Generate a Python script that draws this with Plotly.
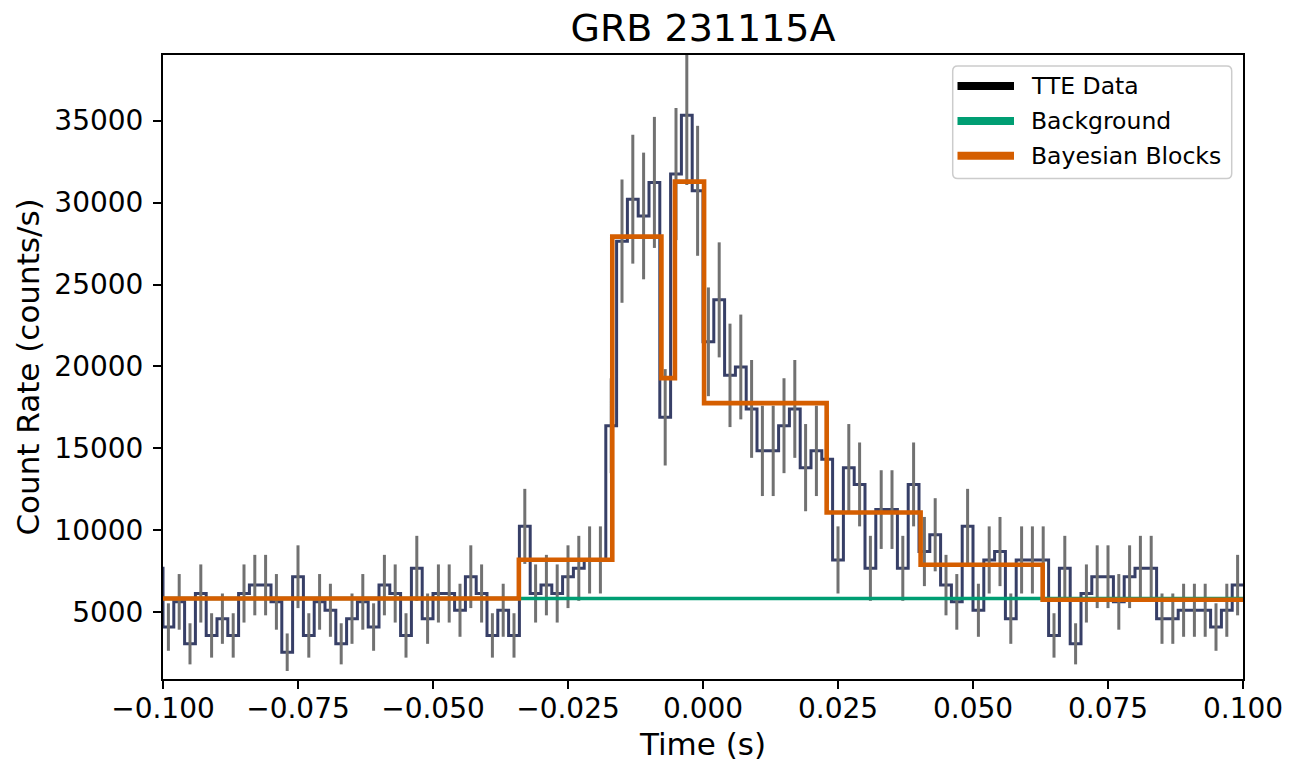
import numpy as np
import plotly.graph_objects as go

# ---- TTE light curve: counts in 2 ms bins, first bin starts at -0.102 s ----
t_first = -0.102
bin_width = 0.002
live_time = 1 / 512  # live time per bin (s)

counts = [
    15,
    8, 11, 6, 12, 7, 9, 7, 12, 13, 13,
    11, 5, 14, 7, 11, 10, 6, 9, 11, 8,
    13, 12, 7, 15, 9, 12, 12, 10, 14, 12,
    7, 10, 7, 20, 12, 13, 12, 14, 15, 16,
    16, 32, 54, 59, 57, 61, 33, 62, 69, 60,
    42, 47, 38, 39, 34, 29, 29, 32, 34, 27,
    29, 28, 16, 27, 25, 15, 22, 22, 15, 25,
    17, 19, 13, 11, 20, 10, 16, 17, 9, 16,
    16, 16, 7, 15, 6, 12, 14, 14, 11, 14,
    15, 15, 9, 9, 10, 10, 10, 8, 10, 13,
]

# ---- Bayesian blocks (edges in s, rates in counts/s) ----
bb_edges = [-0.102, -0.0341, -0.0168, -0.0077, -0.0052, 0.0002, 0.0229, 0.0403, 0.0629, 0.102]
bb_rates = [5842, 8203, 27924, 19286, 31279, 17761, 11088, 7898, 5763]

# ---- Background level (counts/s) ----
bkg_rate = 5840
bkg_span = [-0.102, 0.102]

# ---- Axis ticks ----
x_ticks = [-0.1, -0.075, -0.05, -0.025, 0.0, 0.025, 0.05, 0.075, 0.1]
x_tick_text = ["\u22120.100", "\u22120.075", "\u22120.050", "\u22120.025", "0.000",
               "0.025", "0.050", "0.075", "0.100"]
y_ticks = [5000, 10000, 15000, 20000, 25000, 30000, 35000]

legend_items = [("TTE Data", "#000000"), ("Background", "#009e73"), ("Bayesian Blocks", "#d55e00")]

# ---- Derived quantities ----
counts_arr = np.array(counts, dtype=float)
rate = counts_arr / live_time
rate_err = np.sqrt(counts_arr) / live_time
edges = t_first + bin_width * np.arange(len(counts) + 1)
centers = 0.5 * (edges[:-1] + edges[1:])

FONT = "DejaVu Sans"
fig = go.Figure()

# binned light curve as a histogram-style step line
fig.add_trace(go.Scatter(
    x=edges, y=np.append(rate, rate[-1]),
    mode="lines", line=dict(shape="hv", color="#373f67", width=3),
    name="TTE Data", showlegend=False, hoverinfo="skip",
))

# Poisson error bars at bin centres
fig.add_trace(go.Scatter(
    x=centers, y=rate, mode="markers",
    marker=dict(size=0.1, color="rgba(0,0,0,0)"),
    error_y=dict(type="data", array=rate_err, visible=True,
                 color="#717171", thickness=3, width=0),
    showlegend=False, hoverinfo="skip",
))

# background model
fig.add_trace(go.Scatter(
    x=bkg_span, y=[bkg_rate, bkg_rate], mode="lines",
    line=dict(color="#009e73", width=3.5),
    name="Background", showlegend=False, hoverinfo="skip",
))

# Bayesian block representation
fig.add_trace(go.Scatter(
    x=bb_edges, y=bb_rates + [bb_rates[-1]], mode="lines",
    line=dict(shape="hv", color="#d55e00", width=4.6),
    name="Bayesian Blocks", showlegend=False, hoverinfo="skip",
))

# ---- legend drawn in paper coordinates ----
PL, PR, PT, PB = 163, 1243, 55, 679
def px(xp):
    return (xp - PL) / (PR - PL)
def py(yp):
    return (PB - yp) / (PB - PT)

bx0, bx1, by0, by1, r = 952.7, 1231.7, 66.0, 178.5, 5.0
path = (
    f"M {px(bx0 + r)},{py(by0)} L {px(bx1 - r)},{py(by0)} "
    f"Q {px(bx1)},{py(by0)} {px(bx1)},{py(by0 + r)} "
    f"L {px(bx1)},{py(by1 - r)} Q {px(bx1)},{py(by1)} {px(bx1 - r)},{py(by1)} "
    f"L {px(bx0 + r)},{py(by1)} Q {px(bx0)},{py(by1)} {px(bx0)},{py(by1 - r)} "
    f"L {px(bx0)},{py(by0 + r)} Q {px(bx0)},{py(by0)} {px(bx0 + r)},{py(by0)} Z"
)
shapes = [dict(type="path", xref="paper", yref="paper", path=path,
               fillcolor="rgba(255,255,255,0.8)", line=dict(color="#cccccc", width=1.5))]
annotations = []
row_y = [86.0, 121.0, 155.7]
for (label, col), yy in zip(legend_items, row_y):
    shapes.append(dict(type="line", xref="paper", yref="paper",
                       x0=px(957.5), x1=px(1014), y0=py(yy), y1=py(yy),
                       line=dict(color=col, width=8)))
    annotations.append(dict(xref="paper", yref="paper", x=px(1029), y=py(yy),
                            xanchor="left", yanchor="middle", showarrow=False,
                            text=label, font=dict(family=FONT, size=23.5, color="#000000")))

fig.update_layout(
    width=1293, height=762,
    margin=dict(l=PL, r=1293 - PR, t=PT, b=762 - PB, autoexpand=False),
    paper_bgcolor="white", plot_bgcolor="white",
    showlegend=False,
    font=dict(family=FONT, color="#000000"),
    title=dict(text="GRB 231115A", x=0.5, xref="paper", xanchor="center",
               y=1 - 28 / 762, yref="container", yanchor="middle",
               font=dict(family=FONT, size=38, color="#000000")),
    shapes=shapes, annotations=annotations,
)
fig.update_xaxes(
    range=[-0.1, 0.1], tickvals=x_ticks, ticktext=x_tick_text,
    showgrid=False, zeroline=False,
    showline=True, linecolor="black", linewidth=2, mirror=True,
    ticks="outside", ticklen=8, tickwidth=2, tickcolor="black",
    tickfont=dict(family=FONT, size=28), ticklabelstandoff=-5,
    title=dict(text="Time (s)", font=dict(family=FONT, size=31), standoff=17),
    automargin=False,
)
fig.update_yaxes(
    range=[925, 39008], tickvals=y_ticks, tickformat="d",
    showgrid=False, zeroline=False,
    showline=True, linecolor="black", linewidth=2, mirror=True,
    ticks="outside", ticklen=8, tickwidth=2, tickcolor="black",
    tickfont=dict(family=FONT, size=28), ticklabelstandoff=4,
    title=dict(text="Count Rate (counts/s)", font=dict(family=FONT, size=31), standoff=5),
    automargin=False,
)

fig.write_html("out.html")
